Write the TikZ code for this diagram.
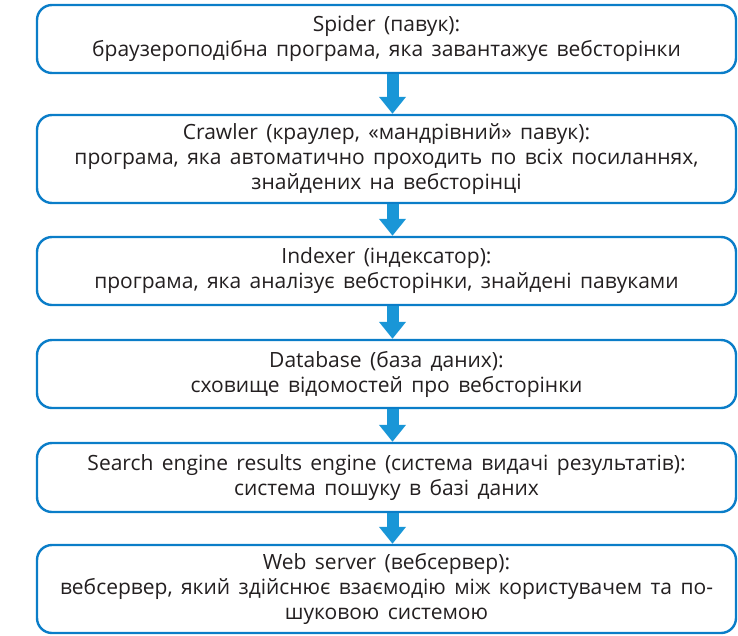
\documentclass[tikz,border=0pt]{standalone}
\usepackage{fontspec}
\setmainfont{Open Sans}
\usetikzlibrary{arrows.meta,positioning}
\definecolor{boxblue}{RGB}{10,125,200}
\definecolor{arrowblue}{RGB}{25,150,215}
\definecolor{textgray}{RGB}{35,31,32}
\newcommand\stagefont{\fontsize{21}{25}\selectfont\spaceskip=8.4pt plus 2pt\relax}
\tikzset{
  stagebox/.style={draw=boxblue, line width=2.4pt, rounded corners=15pt,
    minimum width=699pt, align=center, inner sep=0pt, text=textgray,
    font=\stagefont},
  flowarrow/.style={draw=arrowblue, line width=12pt,
    -{Triangle[width=26pt,length=17pt,fill=arrowblue]}},
}
\begin{document}
\begin{tikzpicture}[x=1pt,y=-1pt]
    \useasboundingbox (0,0) rectangle (738,635);
    \node [stagebox, minimum height=68pt] (s1) at (386.5,39)
      {Spider (павук):\\браузероподібна програма, яка завантажує вебсторінки};
    \node [stagebox, minimum height=88pt] (s2) at (386.5,159)
      {Crawler (краулер, «мандрівний» павук):\\програма, яка автоматично проходить по всіх посиланнях,\\знайдених на вебсторінці};
    \node [stagebox, minimum height=68pt] (s3) at (386.5,271)
      {Indexer (індексатор):\\програма, яка аналізує вебсторінки, знайдені павуками};
    \node [stagebox, minimum height=68pt] (s4) at (386.5,374)
      {Database (база даних):\\сховище відомостей про вебсторінки};
    \node [stagebox, minimum height=69pt] (s5) at (386.5,477.5)
      {Search engine results engine (система видачі результатів):\\система пошуку в базі даних};
    \node [stagebox, minimum height=88pt] (s6) at (386.5,589)
      {Web server (вебсервер):\\вебсервер, який здійснює взаємодію між користувачем та по-\\шуковою системою};
    % arrows between the stages
    \foreach \a/\b in {s1/s2,s2/s3,s3/s4,s4/s5,s5/s6}
      \draw[flowarrow] ([xshift=6pt]\a.south) -- ([xshift=6pt]\b.north);
\end{tikzpicture}
\end{document}
